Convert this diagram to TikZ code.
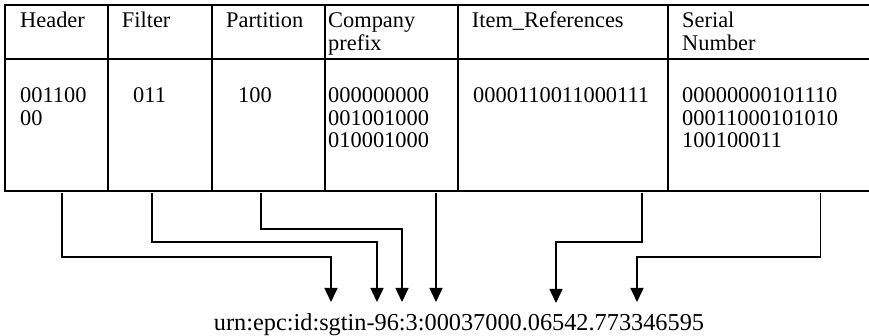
\documentclass[tikz,border=0pt]{standalone}
\usepackage{fontspec}
\setmainfont{Liberation Serif}
\usetikzlibrary{arrows.meta}

\newcommand\celltext[1]{\setlength\tabcolsep{0pt}\begin{tabular}[t]{@{}l@{}}#1\end{tabular}}

\begin{document}
\begin{tikzpicture}[x=1pt,y=-1pt,
  cell/.style={draw=black,line width=1.8pt,rectangle,anchor=north west,inner sep=0pt,outer sep=0pt},
  txt/.style={anchor=base west,inner sep=0pt,font=\fontsize{22.4}{22.4}\selectfont},
  conn/.style={draw=black,line width=1.5pt,-{Triangle[length=14pt,width=13pt]}},
]
\useasboundingbox (0,0) rectangle (869,336);
\clip (0,0) rectangle (869,336);

% header row
\node[cell,minimum width=103pt,minimum height=54pt] (hH) at (5,5) {};
\node[cell,minimum width=104pt,minimum height=54pt] (hF) at (108,5) {};
\node[cell,minimum width=113pt,minimum height=54pt] (hP) at (212,5) {};
\node[cell,minimum width=133pt,minimum height=54pt] (hC) at (325,5) {};
\node[cell,minimum width=210pt,minimum height=54pt] (hI) at (458,5) {};
\node[cell,minimum width=240pt,minimum height=54pt] (hS) at (668,5) {};

% data row
\node[cell,minimum width=103pt,minimum height=132pt] (dH) at (5,59) {};
\node[cell,minimum width=104pt,minimum height=132pt] (dF) at (108,59) {};
\node[cell,minimum width=113pt,minimum height=132pt] (dP) at (212,59) {};
\node[cell,minimum width=133pt,minimum height=132pt] (dC) at (325,59) {};
\node[cell,minimum width=210pt,minimum height=132pt] (dI) at (458,59) {};
\node[cell,minimum width=240pt,minimum height=132pt] (dS) at (668,59) {};

% header texts
\node[txt] (tHeader) at (20,28) {Header};
\node[txt] (tFilter) at (121.7,28) {Filter};
\node[txt] (tPart) at (226,28) {Partition};
\node[txt] (tComp) at (328,28) {\celltext{Company\\prefix}};
\node[txt] (tItem) at (471.7,28) {Item\_References};
\node[txt] (tSer) at (682,28) {\celltext{Serial\\Number}};

% bit fields
\node[txt] (bH) at (20,103) {\celltext{001100\\00}};
\node[txt] (bF) at (133,103) {011};
\node[txt] (bP) at (238,103) {100};
\node[txt] (bC) at (328,103) {\celltext{000000000\\001001000\\010001000}};
\node[txt] (bI) at (473,103) {0000110011000111};
\node[txt] (bS) at (682,103) {\celltext{00000000101110\\00011000101010\\100100011}};

% URN string
\node[anchor=base,inner sep=0pt,font=\fontsize{24.3}{24.3}\selectfont] (urn) at (459,330)
  {urn:epc:id:sgtin-96:3:00037000.06542.773346595};

% arrow tips above the URN
\coordinate (tipH) at (331,302);
\coordinate (tipF) at (377,302);
\coordinate (tipP) at (402,302);
\coordinate (tipC) at (436,302);
\coordinate (tipI) at (556,303);
\coordinate (tipS) at (637,302);

% connectors from the fields to the URN
\draw[conn] ([xshift=5.5pt,yshift=-2pt]dH.south) |- ([yshift=45pt]tipH) -- (tipH);
\draw[conn] ([xshift=-8pt,yshift=-2pt]dF.south) |- ([yshift=60pt]tipF) -- (tipF);
\draw[conn] ([xshift=-7.5pt,yshift=-2pt]dP.south) |- ([yshift=73pt]tipP) -- (tipP);
\draw[conn] ([xshift=44.5pt,yshift=-2pt]dC.south) -- (tipC);
\draw[conn] ([xshift=79pt,yshift=-2pt]dI.south) |- ([yshift=61pt]tipI) -- (tipI);
\draw[conn] ([xshift=32.7pt,yshift=-2pt]dS.south) |- ([yshift=45pt]tipS) -- (tipS);
\end{tikzpicture}
\end{document}
